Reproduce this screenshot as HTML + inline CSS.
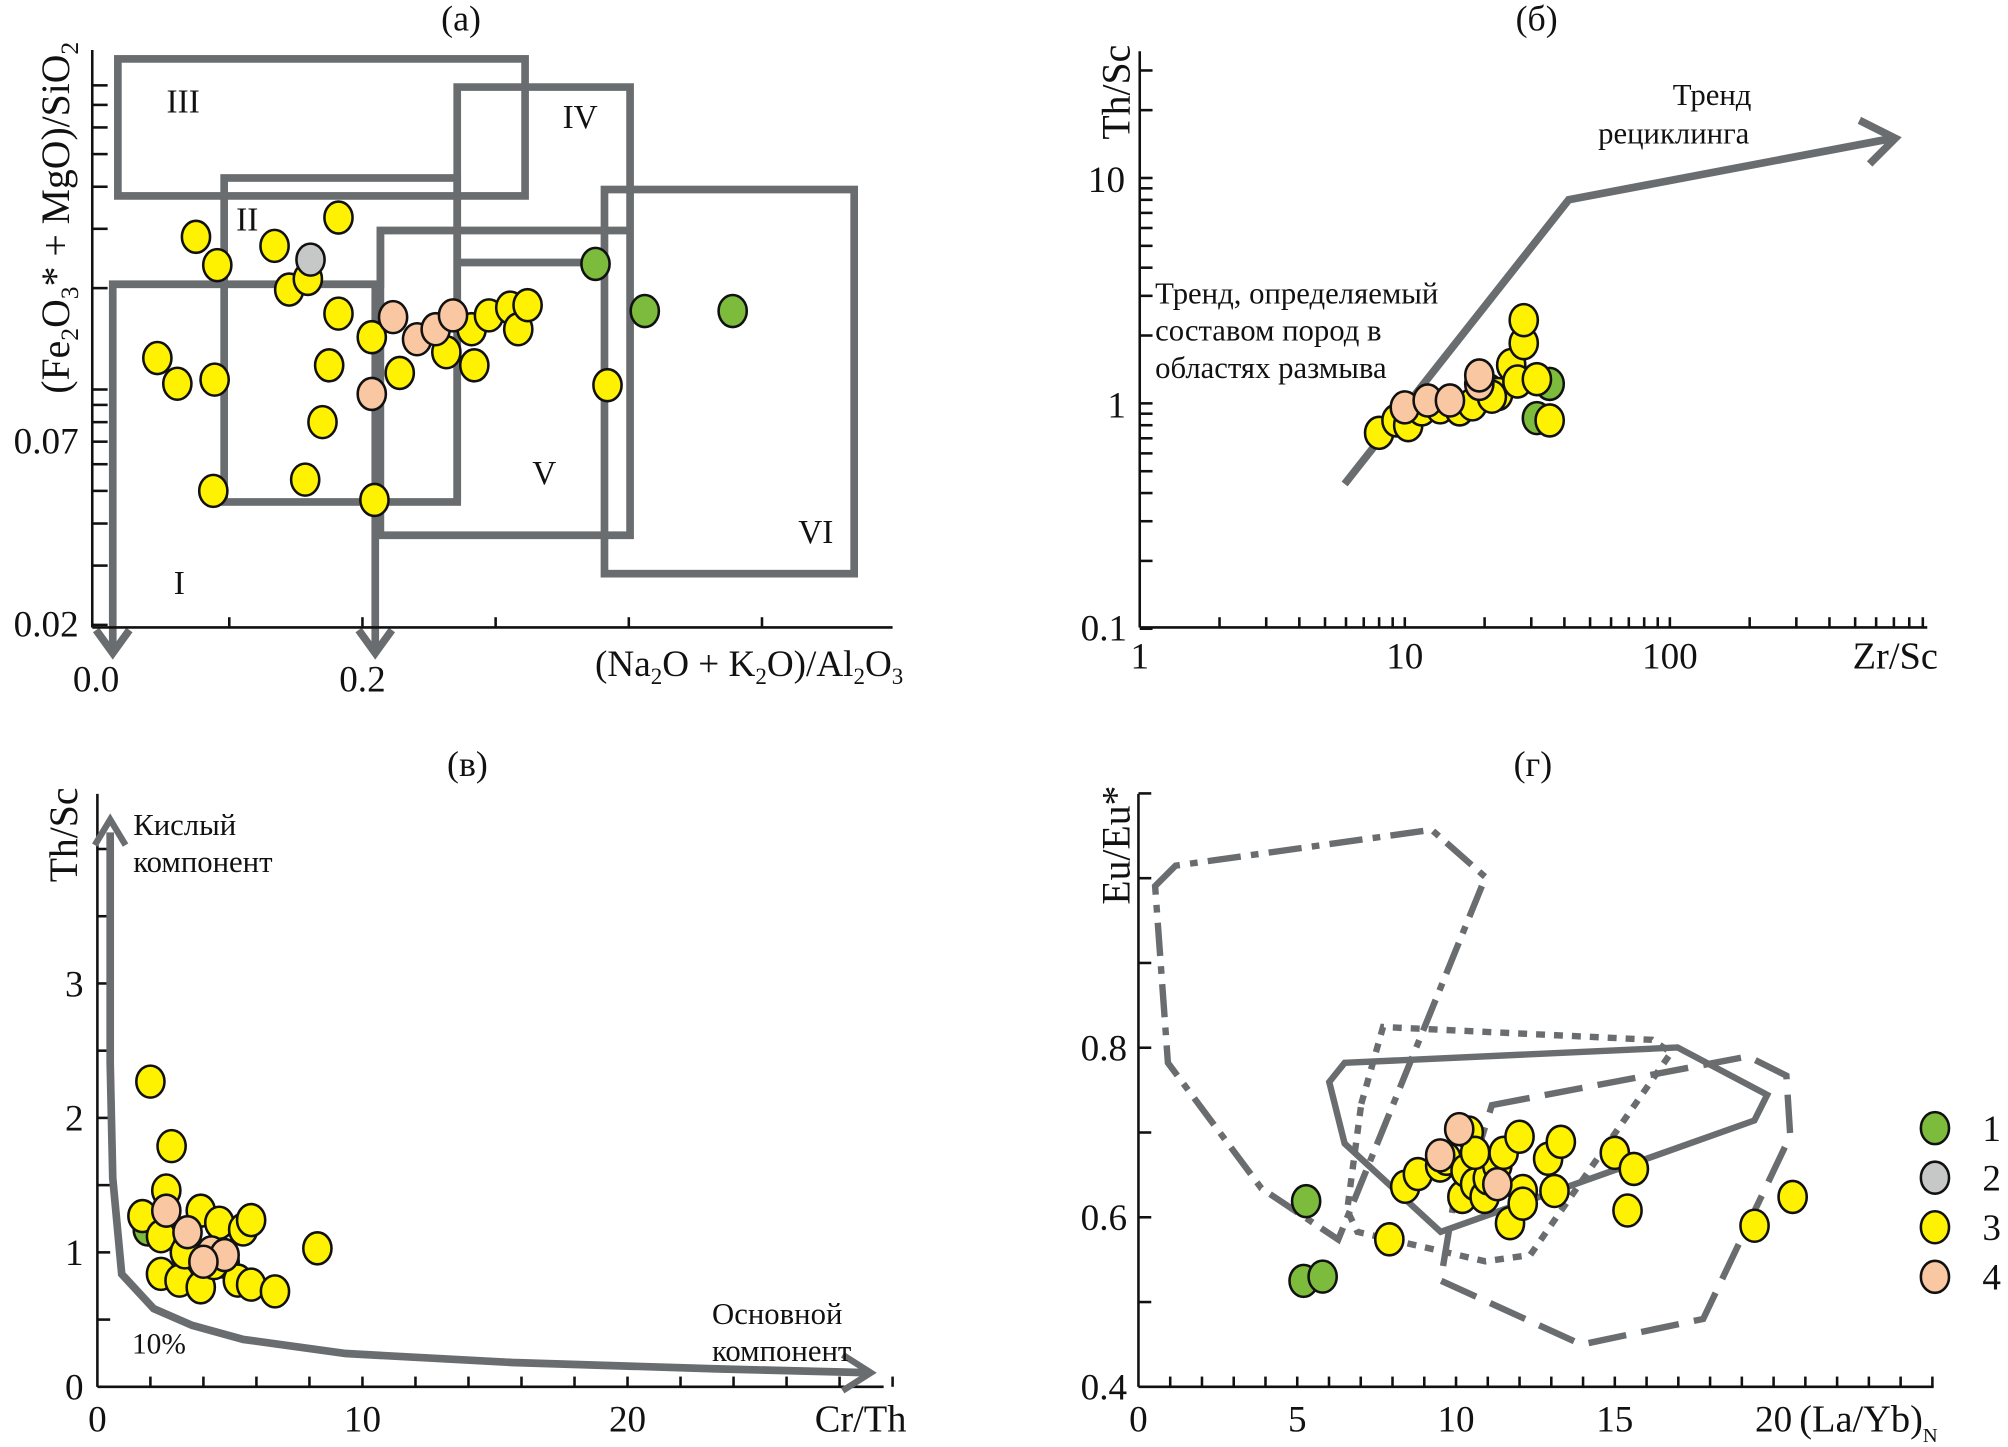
<!DOCTYPE html>
<html><head><meta charset="utf-8"><style>
html,body{margin:0;padding:0;background:#fff}
svg{display:block}
text{font-family:"Liberation Serif",serif;fill:#111;stroke:none}
</style></head><body>
<svg id="fig" width="2008" height="1447" viewBox="0 0 1568 1130" xmlns="http://www.w3.org/2000/svg">
<g id="pa">
 <text x="360" y="24" font-size="28" text-anchor="middle">(a)</text>
 <g fill="none" stroke="#6a6d6f" stroke-width="6">
  <rect x="92" y="46" width="318" height="107"/>
  <polyline points="357,390 357,68 492,68 492,418 297,418 297,180 492,180"/>
  <rect x="175" y="139" width="182" height="253"/>
  <polyline points="357,205 470,205" />
  <polyline points="88,505 88,222 297,222 297,180"/>
  <line x1="293" y1="222" x2="293" y2="505"/>
  <polyline points="75,492 88,510 101,492" />
  <polyline points="280,492 293,510 306,492" />
  <rect x="472" y="148" width="195" height="300"/>
 </g>
 <g font-size="26">
  <text x="143" y="88" text-anchor="middle">III</text>
  <text x="453" y="100" text-anchor="middle">IV</text>
  <text x="193" y="180" text-anchor="middle">II</text>
  <text x="425" y="378" text-anchor="middle">V</text>
  <text x="637" y="424" text-anchor="middle">VI</text>
  <text x="140" y="464" text-anchor="middle">I</text>
 </g>
 <g id="pa-axes" stroke="#111" stroke-width="2"></g>
 <text transform="translate(54,170) rotate(-90)" font-size="31" text-anchor="middle">(Fe<tspan font-size="20" dy="7">2</tspan><tspan dy="-7">O</tspan><tspan font-size="20" dy="7">3</tspan><tspan dy="-7">* + MgO)/SiO</tspan><tspan font-size="20" dy="7">2</tspan></text>
 <text x="585" y="528" font-size="29" text-anchor="middle">(Na<tspan font-size="18" dy="6">2</tspan><tspan dy="-6">O + K</tspan><tspan font-size="18" dy="6">2</tspan><tspan dy="-6">O)/Al</tspan><tspan font-size="18" dy="6">2</tspan><tspan dy="-6">O</tspan><tspan font-size="18" dy="6">3</tspan></text>
 <g id="pa-pts"></g>
</g>

<g id="pb">
 <text x="1200" y="24" font-size="28" text-anchor="middle">(б)</text>
 <g id="pb-axes" stroke="#111" stroke-width="2"></g>
 <text transform="translate(882,72) rotate(-90)" font-size="31" text-anchor="middle">Th/Sc</text>
 <text x="1480" y="522" font-size="30" text-anchor="middle">Zr/Sc</text>
 <polyline points="1050,378 1225,156 1478,108" fill="none" stroke="#6a6d6f" stroke-width="6"/>
 <polyline points="1452,94 1480,108 1460,128" fill="none" stroke="#6a6d6f" stroke-width="6"/>
 <text x="1337" y="82" font-size="24" text-anchor="middle">Тренд</text>
 <text x="1307" y="112" font-size="24" text-anchor="middle">рециклинга</text>
 <text x="902" y="237" font-size="24">Тренд, определяемый</text>
 <text x="902" y="266" font-size="24">составом пород в</text>
 <text x="902" y="295" font-size="24">областях размыва</text>
 <g id="pb-pts"></g>
</g>

<g id="pc">
 <text x="365" y="606" font-size="28" text-anchor="middle">(в)</text>
 <g id="pc-axes" stroke="#111" stroke-width="2"></g>
 <text transform="translate(60,652) rotate(-90)" font-size="31" text-anchor="middle">Th/Sc</text>
 <text x="672" y="1118" font-size="30" text-anchor="middle">Cr/Th</text>
 <polyline points="86,650 86,830 88,920 95,995 120,1022 150,1035 190,1046 270,1057 400,1064 560,1069 680,1072" fill="none" stroke="#6a6d6f" stroke-width="6"/>
 <polyline points="74,660 86,640 98,660" fill="none" stroke="#6a6d6f" stroke-width="5"/>
 <polyline points="658,1058 680,1072 658,1086" fill="none" stroke="#6a6d6f" stroke-width="5"/>
 <text x="104" y="652" font-size="24">Кислый</text>
 <text x="104" y="681" font-size="24">компонент</text>
 <text x="556" y="1034" font-size="24">Основной</text>
 <text x="556" y="1063" font-size="24">компонент</text>
 <text x="103" y="1057" font-size="23">10%</text>
 <g id="pc-pts"></g>
</g>

<g id="pd">
 <text x="1197" y="606" font-size="28" text-anchor="middle">(г)</text>
 <g fill="none" stroke="#6a6d6f" stroke-width="5">
  <polygon points="902,692 918,676 1118,648 1160,685 1045,968 985,928 912,830" stroke-dasharray="26,8,6,8"/>
  <polygon points="1050,830 1310,818 1380,855 1370,875 1125,962 1050,893 1038,845"/>
  <polygon points="1165,863 1365,825 1395,840 1398,887 1330,1030 1235,1050 1125,1000 1135,940 1152,905" stroke-dasharray="30,12"/>
  <polygon points="1063,862 1080,802 1290,812 1305,822 1195,980 1160,985 1060,962 1052,945" stroke-dasharray="7,7"/>
 </g>
 <g id="pd-axes" stroke="#111" stroke-width="2"></g>
 <text transform="translate(882,660) rotate(-90)" font-size="31" text-anchor="middle">Eu/Eu*</text>
 <text x="1405" y="1118" font-size="30">(La/Yb)<tspan font-size="16" dy="8">N</tspan></text>
 <g id="pd-pts"></g>
 <g id="legend"></g>
</g>
</svg>
<script>
const NS="http://www.w3.org/2000/svg";
const COLORS=["#7cbb3c","#c6c8c8","#fff200","#f9c8a2"];
const LINE="#111";
// panel a data (x: (Na2O+K2O)/Al2O3, y: (Fe2O3*+MgO)/SiO2)
const aYellowX=[0.075,0.091,0.134,0.182,0.145,0.159,0.182,0.046,0.061,0.089,0.175,0.170,0.088,0.157,0.209,0.207,0.228,0.263,0.284,0.282,0.295,0.311,0.317,0.324,0.384];
const aYellowY=[0.284,0.234,0.267,0.324,0.198,0.213,0.168,0.124,0.104,0.107,0.118,0.080,0.050,0.054,0.047,0.143,0.112,0.129,0.118,0.151,0.166,0.175,0.151,0.178,0.103];
const aGrayX=[0.161];const aGrayY=[0.243];
const aGreenX=[0.375,0.412,0.478];const aGreenY=[0.236,0.171,0.171];
const aPeachX=[0.223,0.241,0.255,0.268,0.207];const aPeachY=[0.164,0.141,0.151,0.166,0.097];
const aYTicks=[0.02,0.03,0.04,0.05,0.06,0.07,0.08,0.09,0.1,0.2,0.3,0.4,0.5,0.6,0.7,0.8];
const aYLabels=["0.02","0.07"];
const aXTicks=[0.1,0.2,0.3,0.4,0.5];
const aXLabels=["0.0","0.2"];
// panel b (Zr/Sc, Th/Sc)
const bYellowX=[8.0,9.3,10.3,11.6,13.6,16.1,18.0,19.5,20.8,22.5,25.2,26.6,28.1,28.1,31.5,35.2,21.3];
const bYellowY=[0.74,0.84,0.80,0.94,0.96,0.94,0.99,1.22,1.14,1.10,1.48,1.25,1.85,2.34,1.28,0.84,1.07];
const bGreenX=[31.5,35.2];const bGreenY=[0.86,1.22];
const bPeachX=[10.0,12.2,14.8,19.1,19.1];const bPeachY=[0.96,1.03,1.03,1.22,1.33];
const bYLabels=["0.1","1","10"];
const bXLabels=["1","10","100"];
// panel c (Cr/Th, Th/Sc)
const cYellowX=[2.0,2.8,1.7,2.6,2.4,3.9,4.6,5.5,5.8,2.4,3.1,3.9,4.8,5.3,5.8,8.3,6.7,3.3,4.4];
const cYellowY=[2.27,1.79,1.27,1.46,1.12,1.31,1.22,1.17,1.24,0.84,0.79,0.74,0.93,0.79,0.76,1.03,0.71,1.00,0.92];
const cGreenX=[1.9];const cGreenY=[1.17];
const cPeachX=[2.6,3.4,4.3,4.8,4.0];const cPeachY=[1.31,1.15,1.0,0.98,0.93];
const cYLabels=["0","1","2","3"];
const cXLabels=["0","10","20"];
// panel d ((La/Yb)N, Eu/Eu*)
const dYellowX=[7.9,8.4,8.8,9.5,9.7,10.2,10.3,10.6,10.9,11.0,11.3,11.5,11.7,12.0,12.1,12.1,12.9,13.1,13.3,15.0,15.4,15.6,19.4,20.6,10.4,10.6];
const dYellowY=[0.574,0.636,0.651,0.661,0.669,0.624,0.655,0.639,0.624,0.646,0.661,0.676,0.593,0.695,0.631,0.616,0.669,0.631,0.689,0.676,0.608,0.657,0.590,0.624,0.700,0.676];
const dGreenX=[5.28,5.2,5.8];const dGreenY=[0.619,0.525,0.530];
const dPeachX=[10.1,9.5,11.3];const dPeachY=[0.704,0.673,0.639];
const dYLabels=["0.4","0.6","0.8"];
const dXLabels=["0","5","10","15","20"];
const legendLabels=["1","2","3","4"];

// axis functions
const ax=v=>75+1040*v, ay=v=>488-263*Math.log10(v/0.02);
const bx=v=>890+207*Math.log10(v), by=v=>315-176*Math.log10(v);
const cx=v=>76+20.7*v, cy=v=>1083-105*v;
const dx=v=>889+24.8*v, dy=v=>1083-662*(v-0.4);

function el(tag,attrs,parent){const e=document.createElementNS(NS,tag);for(const k in attrs)e.setAttribute(k,attrs[k]);parent.appendChild(e);return e;}
function line(p,x1,y1,x2,y2){el('line',{x1,y1,x2,y2},p);}
function txt(p,x,y,s,anchor){const t=el('text',{x,y,'font-size':29,'text-anchor':anchor||'middle',stroke:'none'},p);t.textContent=s;return t;}
function pts(gid,X,Y,fx,fy,color,name){
 const g=document.getElementById(gid);
 for(let i=0;i<X.length;i++){
  const c=el('ellipse',{cx:fx(X[i]),cy:fy(Y[i]),rx:11,ry:12.5,fill:color,stroke:LINE,'stroke-width':2},g);
  
  
 }
}
// axes a
(function(){const g=document.getElementById('pa-axes');
 line(g,72,39,72,490);line(g,72,490,697,490);
 aYTicks.forEach(v=>line(g,72,ay(v),84,ay(v)));
 aXTicks.forEach(v=>line(g,ax(v),490,ax(v),482));
 txt(g,36,497,aYLabels[0]);txt(g,36,354,aYLabels[1]);
 txt(g,75,540,aXLabels[0]);txt(g,283,540,aXLabels[1]);
})();
// axes b
(function(){const g=document.getElementById('pb-axes');
 line(g,890,40,890,490);line(g,890,490,1505,490);
 for(let d=-1;d<=1;d++)for(let m=1;m<10;m++){const v=m*Math.pow(10,d);const y=by(v);if(y<40)continue;line(g,890,y,900,y);}
 for(let d=0;d<=2;d++)for(let m=1;m<10;m++){const v=m*Math.pow(10,d);const x=bx(v);if(x>1502||m===1&&d===0)continue;line(g,x,490,x,482);}
 txt(g,862,500,bYLabels[0]);txt(g,872,326,bYLabels[1]);txt(g,864,150,bYLabels[2]);
 txt(g,bx(1),522,bXLabels[0]);txt(g,bx(10),522,bXLabels[1]);txt(g,bx(100),522,bXLabels[2]);
})();
// axes c
(function(){const g=document.getElementById('pc-axes');
 line(g,76,620,76,1083);line(g,76,1083,690,1083);
 for(let v=0.5;v<=4.4;v+=0.5)line(g,76,cy(v),86,cy(v));
 for(let v=2;v<=30;v+=2)line(g,cx(v),1083,cx(v),1075);
 cYLabels.forEach((s,i)=>txt(g,58,cy(i)+10,s));
 cXLabels.forEach((s,i)=>txt(g,cx(i*10),1118,s));
})();
// axes d
(function(){const g=document.getElementById('pd-axes');
 line(g,889,620,889,1083);line(g,889,1083,1510,1083);
 for(let v=0.5;v<=1.11;v+=0.1)line(g,889,dy(v),899,dy(v));
 for(let v=1;v<=25;v++)line(g,dx(v),1083,dx(v),1075);
 dYLabels.forEach((s,i)=>txt(g,862,dy(0.4+0.2*i)+10,s));
 dXLabels.forEach((s,i)=>txt(g,dx(i*5),1118,s));
})();
pts('pa-pts',aYellowX,aYellowY,ax,ay,COLORS[2],'group-3');
pts('pa-pts',aGrayX,aGrayY,ax,ay,COLORS[1],'group-2');
pts('pa-pts',aGreenX,aGreenY,ax,ay,COLORS[0],'group-1');
pts('pa-pts',aPeachX,aPeachY,ax,ay,COLORS[3],'group-4');
pts('pb-pts',bGreenX,bGreenY,bx,by,COLORS[0],'group-1');
pts('pb-pts',bYellowX,bYellowY,bx,by,COLORS[2],'group-3');
pts('pb-pts',bPeachX,bPeachY,bx,by,COLORS[3],'group-4');
pts('pc-pts',cGreenX,cGreenY,cx,cy,COLORS[0],'group-1');
pts('pc-pts',cYellowX,cYellowY,cx,cy,COLORS[2],'group-3');
pts('pc-pts',cPeachX,cPeachY,cx,cy,COLORS[3],'group-4');
pts('pd-pts',dGreenX,dGreenY,dx,dy,COLORS[0],'group-1');
pts('pd-pts',dYellowX,dYellowY,dx,dy,COLORS[2],'group-3');
pts('pd-pts',dPeachX,dPeachY,dx,dy,COLORS[3],'group-4');
(function(){const g=document.getElementById('legend');
 legendLabels.forEach((s,i)=>{const y=881+38.7*i;
  const e=el('ellipse',{cx:1511,cy:y,rx:11,ry:12.5,fill:COLORS[i],stroke:LINE,'stroke-width':2},g);
  
  
  const t=txt(g,1548,y+10,s,'start');
  
  
 });
})();
</script>
</body></html>
